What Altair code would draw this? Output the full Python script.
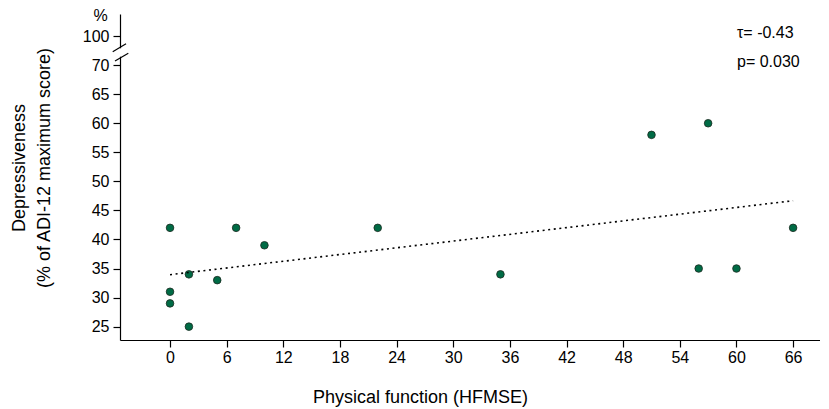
import altair as alt
import pandas as pd

# Data
hfmse = [0, 0, 0, 2, 2, 5, 7, 10, 22, 35, 51, 56, 57, 60, 66]
depress = [42, 31, 29, 34, 25, 33, 42, 39, 42, 34, 58, 35, 60, 35, 42]

x_ticks = [0, 6, 12, 18, 24, 30, 36, 42, 48, 54, 60, 66]
y_ticks = [25, 30, 35, 40, 45, 50, 55, 60, 65, 70, 75]   # 75 is shown as the broken-axis "100"

stat_labels = ["τ= -0.43", "p= 0.030"]
stat_x = [60.06, 60.06]
stat_y = [75.53, 70.54]

FONT = "Liberation Sans"
X_DOM = [-5.3, 68.85]
Y_DOM = [22.7, 78.8]

df = pd.DataFrame({"x": hfmse, "y": depress})
stats = pd.DataFrame({"label": stat_labels, "x": stat_x, "y": stat_y})

xs = alt.Scale(domain=X_DOM, nice=False, zero=False)
ys = alt.Scale(domain=Y_DOM, nice=False, zero=False)

x_axis = alt.Axis(
    values=x_ticks, grid=False, domainColor="black", domainWidth=1.2,
    tickColor="black", tickSize=7, tickWidth=1.2, labelFontSize=16, labelFont=FONT,
    labelColor="black", labelPadding=2, labelOverlap=False,
    title="Physical function (HFMSE)",
    titleFont=FONT, titleFontSize=18, titleFontWeight="normal", titleColor="black",
    titleX=300, titleY=57, titleBaseline="middle", titleAlign="center",
)
y_axis = alt.Axis(
    values=y_ticks, grid=False, domainColor="black", domainWidth=1.2,
    tickColor="black", tickSize=7, tickWidth=1.2, labelFontSize=16, labelFont=FONT,
    labelColor="black", labelPadding=4, labelOverlap=False,
    labelExpr="datum.value == 75 ? '100' : datum.label",
    title="%", titleFont=FONT, titleFontSize=16, titleFontWeight="normal",
    titleColor="black", titleAngle=0, titleX=-20, titleY=1,
    titleAlign="center", titleBaseline="middle",
)

def X(field="x"):
    return alt.X(f"{field}:Q", scale=xs, axis=x_axis)

def Y(field="y"):
    return alt.Y(f"{field}:Q", scale=ys, axis=y_axis)

base = alt.Chart(df)

points = base.mark_point(
    filled=True, shape="circle", size=58, fill="#006b45", stroke="#1a2a20",
    strokeWidth=0.8, opacity=1,
).encode(x=X(), y=Y())

trend = base.transform_regression("x", "y").mark_line(
    color="black", strokeDash=[2, 3.6], strokeWidth=1.6
).encode(x=X(), y=Y())

stat_text = alt.Chart(stats).mark_text(
    font=FONT, fontSize=16, align="left", baseline="middle", color="black"
).encode(x=X(), y=Y(), text="label:N")

# Axis-break decoration (gap + two slashes) in data units
gap = alt.Chart(pd.DataFrame({"x": [-5.52], "x2": [-5.08], "y": [71.45], "y2": [72.9]})).mark_rect(
    color="white", clip=False
).encode(x=X(), x2="x2", y=Y(), y2="y2")

slashes = alt.Chart(pd.DataFrame({
    "x": [-6.07, -5.83], "x2": [-4.66, -4.42], "y": [72.31, 70.71], "y2": [73.69, 72.04]
})).mark_rule(color="black", strokeWidth=1.2, clip=False).encode(
    x=X(), x2="x2", y=Y(), y2="y2"
)

ytitle1 = alt.Chart(pd.DataFrame({"t": ["Depressiveness"]})).mark_text(
    font=FONT, fontSize=18, angle=270, align="center", baseline="middle", color="black"
).encode(x=alt.value(-100), y=alt.value(154), text="t:N")
ytitle2 = alt.Chart(pd.DataFrame({"t": ["(% of ADI-12 maximum score)"]})).mark_text(
    font=FONT, fontSize=18, angle=270, align="center", baseline="middle", color="black"
).encode(x=alt.value(-75), y=alt.value(154), text="t:N")

chart = alt.layer(points, trend, gap, slashes, stat_text, ytitle1, ytitle2).properties(
    width=700, height=326, background="white",
    autosize=alt.AutoSizeParams(type="none"),
    padding={"left": 112, "top": 6, "right": 0, "bottom": 68},
).configure_view(stroke=None)

chart.save("out.html", embed_options={"renderer": "svg", "actions": False})
